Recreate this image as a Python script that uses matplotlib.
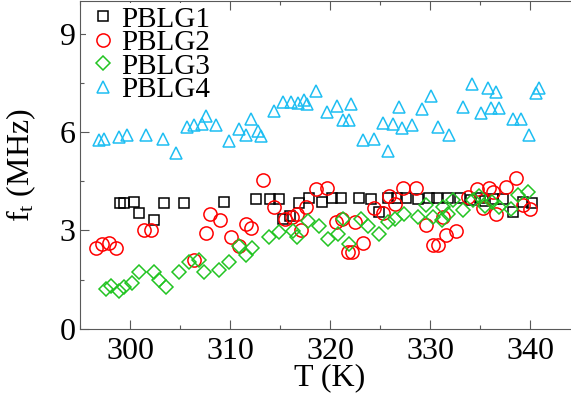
import matplotlib
matplotlib.use('Agg')
import matplotlib.pyplot as plt
from matplotlib.ticker import MultipleLocator

plt.rcParams['font.family'] = ['Liberation Serif', 'DejaVu Serif']
plt.rcParams['mathtext.fontset'] = 'custom'
plt.rcParams['mathtext.rm'] = 'Liberation Serif'
plt.rcParams['mathtext.it'] = 'Liberation Serif:italic'

# PBLG1 (squares)
t1 = [299.0, 299.4, 300.4, 300.9, 302.4, 303.4, 305.4, 309.4, 312.6, 314.0,
      314.9, 315.3, 316.0, 316.9, 317.9, 319.2, 320.2, 321.1, 322.9, 324.1,
      324.9, 325.8, 326.7, 327.6, 328.8, 329.9, 330.7, 331.8, 333.0, 334.1,
      335.0, 335.5, 336.3, 337.3, 338.3, 339.3, 340.2]
f1 = [3.83, 3.83, 3.86, 3.52, 3.32, 3.83, 3.83, 3.87, 3.97, 3.97,
      3.97, 3.35, 3.45, 3.85, 4.00, 3.88, 4.00, 3.98, 4.00, 3.97,
      3.56, 4.00, 4.00, 4.00, 3.97, 4.00, 4.00, 4.00, 4.00, 3.93,
      3.98, 3.90, 3.97, 3.97, 3.56, 3.87, 3.83]

# PBLG2 (circles)
t2 = [296.6, 297.2, 297.9, 298.6, 301.4, 302.1, 306.4, 307.6, 308.0, 309.0,
      310.1, 310.9, 311.6, 312.1, 313.3, 314.4, 315.5, 316.2, 316.7, 317.1,
      317.6, 318.6, 319.7, 320.6, 321.2, 321.8, 322.2, 322.5, 323.3, 324.4,
      325.3, 325.9, 326.5, 327.3, 328.6, 329.6, 330.3, 330.8, 331.3, 331.6,
      332.6, 333.8, 334.7, 335.3, 335.9, 336.3, 336.6, 337.6, 338.6, 339.3,
      340.0]
f2 = [2.47, 2.59, 2.63, 2.46, 3.01, 3.01, 2.10, 2.91, 3.49, 3.32,
      2.81, 2.54, 3.19, 3.09, 4.54, 3.71, 3.34, 3.42, 3.50, 3.01,
      3.72, 4.26, 4.29, 3.26, 3.36, 2.33, 2.35, 3.27, 2.61, 3.70,
      3.54, 4.05, 3.80, 4.29, 4.29, 3.17, 2.56, 2.56, 3.42, 2.86,
      2.99, 4.01, 4.27, 3.68, 4.29, 4.18, 3.50, 4.34, 4.61, 3.78,
      3.65]

# PBLG3 (diamonds)
t3 = [297.6, 298.1, 298.9, 299.4, 300.2, 300.9, 302.4, 302.9, 303.6, 304.9,
      305.9, 306.9, 307.4, 308.9, 309.9, 310.9, 311.6, 312.2, 313.9, 314.9,
      316.3, 316.7, 317.8, 318.9, 319.8, 320.8, 321.3, 321.9, 323.1, 323.8,
      324.9, 325.8, 326.5, 327.4, 328.8, 329.6, 330.3, 331.2, 331.3, 331.8,
      332.3, 333.3, 334.3, 334.9, 335.5, 336.2, 336.9, 338.1, 338.8, 339.8]
f3 = [1.21, 1.31, 1.16, 1.28, 1.41, 1.72, 1.74, 1.49, 1.28, 1.72,
      2.05, 2.10, 1.72, 1.79, 2.05, 2.53, 2.25, 2.46, 2.81, 2.96,
      2.98, 2.79, 3.30, 3.14, 2.74, 2.89, 3.34, 2.59, 3.34, 3.14,
      2.88, 3.27, 3.34, 3.49, 3.40, 3.78, 3.40, 3.32, 3.71, 3.50,
      3.93, 3.63, 3.93, 4.05, 3.75, 3.88, 3.71, 3.65, 4.08, 4.18]

# PBLG4 (triangles)
t4 = [296.9, 297.4, 298.9, 299.7, 301.6, 303.3, 304.6, 305.7, 306.4, 307.2,
      307.6, 308.6, 309.9, 310.9, 311.6, 312.1, 312.8, 313.1, 314.4, 315.3,
      316.1, 316.8, 317.4, 317.7, 318.6, 319.7, 320.7, 321.3, 321.9, 322.1,
      323.3, 324.4, 325.3, 325.8, 326.3, 326.9, 327.2, 328.2, 329.2, 330.1,
      330.8, 331.9, 333.3, 334.2, 335.1, 335.8, 336.1, 336.6, 336.9, 338.3,
      339.1, 339.9, 340.6, 340.9]
f4 = [5.76, 5.80, 5.86, 5.91, 5.93, 5.79, 5.36, 6.17, 6.22, 6.25,
      6.51, 6.21, 5.74, 6.09, 5.93, 6.39, 6.04, 5.89, 6.65, 6.92,
      6.93, 6.88, 6.99, 6.86, 7.27, 6.63, 6.81, 6.37, 6.37, 6.85,
      5.76, 5.79, 6.29, 5.44, 6.25, 6.78, 6.12, 6.22, 6.70, 7.11,
      6.17, 5.92, 6.78, 7.46, 6.58, 7.36, 6.73, 7.22, 6.75, 6.40,
      6.40, 5.92, 7.19, 7.34]

fig = plt.figure(figsize=(5.71, 3.96), dpi=100)
ax = fig.add_axes([80 / 571, (396 - 328.7) / 396, 500 / 571, (328.7 - 1.3) / 396])

ax.plot(t1, f1, ls='none', marker='s', ms=7.2, mfc='none', mec='black', mew=1.1, label='PBLG1')
ax.plot(t2, f2, ls='none', marker='o', ms=9.5, mfc='none', mec='red', mew=1.1, label='PBLG2')
ax.plot(t3, f3, ls='none', marker='D', ms=7.2, mfc='none', mec='#22c422', mew=1.1, label='PBLG3')
ax.plot(t4, f4, ls='none', marker='^', ms=8.5, mfc='none', mec='#1ebef2', mew=1.1, label='PBLG4')

ax.set_xlim(295, 345)
ax.set_ylim(0, 10)
ax.xaxis.set_major_locator(MultipleLocator(10))
ax.xaxis.set_minor_locator(MultipleLocator(5))
ax.yaxis.set_major_locator(MultipleLocator(3))
ax.yaxis.set_minor_locator(MultipleLocator(1.5))
ax.tick_params(which='both', direction='in', top=True, right=True, color='0.35', width=0.8)
ax.tick_params(which='major', length=6.3, labelsize=23)
ax.tick_params(which='minor', length=3.2)
ax.tick_params(axis='x', pad=6)
ax.tick_params(axis='y', pad=3)
for sp in ax.spines.values():
    sp.set_color('0.35')
    sp.set_linewidth(0.8)
    sp.set_zorder(6)

ax.set_xlabel('T (K)', fontsize=23, labelpad=-2)
ax.set_ylabel(r'f$_{\mathrm{t}}$ (MHz)', fontsize=23)
ax.yaxis.set_label_coords(-0.085, 0.5)

leg = ax.legend(loc='upper left', bbox_to_anchor=(0.0, 1.012), fontsize=21,
                frameon=True, facecolor='white', edgecolor='none', framealpha=1,
                fancybox=False, labelspacing=-0.1, handletextpad=0.15,
                handlelength=0.95, borderpad=0.1, borderaxespad=0.2)

fig.savefig('out.png', dpi=100)
